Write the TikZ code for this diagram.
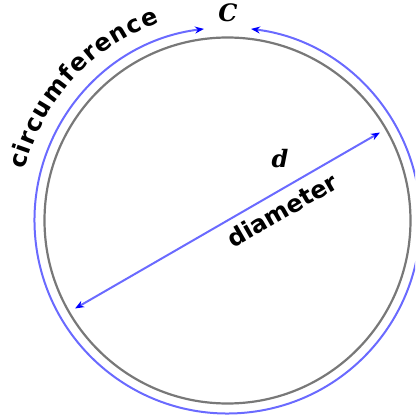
\documentclass[tikz,border=0pt]{standalone}
\usepackage{fontspec}
\usepackage{tikz}
\usetikzlibrary{arrows.meta,positioning,decorations.text}
\newfontfamily\circsans{DejaVu Sans}
\newfontfamily\circserif{DejaVu Serif}
\newcommand\arclabelfont{\circsans\bfseries\fontsize{24pt}{24pt}\selectfont}
\definecolor{cdblue}{HTML}{6A6AFF}
\definecolor{cdtip}{HTML}{0000FF}
\definecolor{cdgray}{HTML}{787878}
\tikzset{
  rim/.style={draw=cdgray,line width=2.2pt},
  circ/.style={draw=cdblue,line width=2pt,
               {Stealth[length=9pt,width=7pt,color=cdtip]}-{Stealth[length=9pt,width=7pt,color=cdtip]}},
  dia/.style={draw=cdblue,line width=2pt,
              {Stealth[length=9pt,width=7pt,color=cdtip]}-{Stealth[length=9pt,width=7pt,color=cdtip]}},
  lbl/.style={font=\arclabelfont,text=black,inner sep=0pt},
  sym/.style={font=\circserif\bfseries\itshape\fontsize{24pt}{24pt}\selectfont,text=black,inner sep=0pt},
}

\begin{document}
\begin{tikzpicture}[x=1pt,y=1pt]
\useasboundingbox (-227.5,-196.5) rectangle (187.5,220.5);
\clip (-227.5,-196.5) rectangle (187.5,220.5);
\coordinate (centre) at (0,0);
\coordinate (dleft) at (210:176pt);
\coordinate (dright) at (30:176pt);

\draw[rim] (centre) circle[radius=183pt];
\draw[circ] (97:193pt) arc[start angle=97,end angle=443,radius=193pt];
\draw[dia] (dleft) -- (dright);

\node[sym] (clabel) at (0.5,207.5) {C};
\node[sym] (dlabel) at (52.5,61.5) {d};
\node[lbl,rotate=30] (dianame) at (54.5,10.5) {diameter};
\path[decorate,decoration={text along path,text align=fit to path,
      text={|\arclabelfont|circumference}}]
  (166:209pt) arc[start angle=166,end angle=109,radius=209pt];
\end{tikzpicture}
\end{document}
